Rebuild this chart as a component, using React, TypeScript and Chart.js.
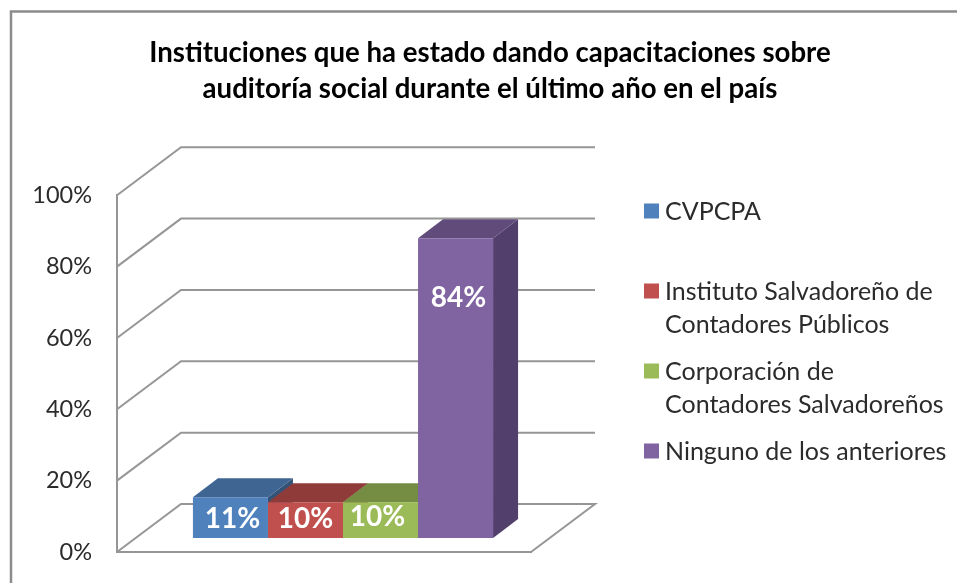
import React, { useEffect, useRef } from "react";
import { Chart, registerables } from "chart.js";

Chart.register(...registerables);

const titleLines = [
  "Instituciones que ha estado dando capacitaciones sobre",
  "auditoría social durante el último año en el país",
];
const seriesNames = [
  "CVPCPA",
  "Instituto Salvadoreño de Contadores Públicos",
  "Corporación de Contadores Salvadoreños",
  "Ninguno de los anteriores",
];
const legendLines = [
  ["CVPCPA"],
  ["Instituto Salvadoreño de", "Contadores Públicos"],
  ["Corporación de", "Contadores Salvadoreños"],
  ["Ninguno de los anteriores"],
];
const seriesValues = [11.4, 10, 10, 84];
const categories = [""];
const frontColors = ["#4f81bd", "#c0504d", "#9bbb59", "#8064a2"];
const topColors = ["#3f6593", "#8f3b39", "#748d42", "#604b7a"];
const sideColors = ["#335378", "#8f3b39", "#748d42", "#523f6c"];

const FONT = "Lato, Carlito, sans-serif";
const GRID = "#969696";
const WALL = { dx: 64, dy: -48 };
const BAR_SHIFT = { dx: 19, dy: -14 };
const BAR_DEPTH = { dx: 25, dy: -19 };
const labelNudge = [{ x: 2, y: 1 }, { x: 0, y: -1 }, { x: -3, y: -3 }, { x: 3, y: 0 }];
const legendLayout = { swatchX: 644, swatch: 15, textX: 665, lineGap: 32.5, firstY: [212, 292, 372, 452] };

function poly(ctx: CanvasRenderingContext2D, pts: number[][], fill: string) {
  ctx.beginPath();
  pts.forEach((p, i) => (i ? ctx.lineTo(p[0], p[1]) : ctx.moveTo(p[0], p[1])));
  ctx.closePath();
  ctx.fillStyle = fill;
  ctx.fill();
}

const scenePlugin = {
  id: "scene3d",
  beforeDraw(chart: any) {
    const { ctx } = chart;
    ctx.save();
    ctx.fillStyle = "#ffffff";
    ctx.fillRect(0, 0, chart.width, chart.height);
    ctx.strokeStyle = "#8c8c8c";
    ctx.lineWidth = 2.5;
    ctx.beginPath();
    ctx.moveTo(11, chart.height);
    ctx.lineTo(11, 11.5);
    ctx.lineTo(chart.width, 11.5);
    ctx.stroke();
    ctx.restore();
  },
  beforeDatasetsDraw(chart: any) {
    const { ctx, chartArea, scales } = chart;
    const { left, right } = chartArea;
    ctx.save();
    ctx.strokeStyle = GRID;
    ctx.lineWidth = 2;
    scales.y.ticks.forEach((t: any) => {
      const y = scales.y.getPixelForValue(t.value);
      ctx.beginPath();
      ctx.moveTo(left, y);
      ctx.lineTo(left + WALL.dx, y + WALL.dy);
      ctx.lineTo(right + WALL.dx, y + WALL.dy);
      if (t.value === 0) ctx.lineTo(right, y);
      ctx.stroke();
    });
    // extruded tops and sides, painted left to right
    chart.data.datasets.forEach((_: any, i: number) => {
      const bar = chart.getDatasetMeta(i).data[0];
      const x0 = bar.x - bar.width / 2 + BAR_SHIFT.dx;
      const x1 = bar.x + bar.width / 2 + BAR_SHIFT.dx;
      const yT = bar.y + BAR_SHIFT.dy;
      const yB = bar.base + BAR_SHIFT.dy;
      const d = BAR_DEPTH;
      poly(ctx, [[x1, yT], [x1 + d.dx, yT + d.dy], [x1 + d.dx, yB + d.dy], [x1, yB]], sideColors[i]);
      poly(ctx, [[x0, yT], [x0 + d.dx, yT + d.dy], [x1 + d.dx, yT + d.dy], [x1, yT]], topColors[i]);
    });
    ctx.restore();
    ctx.save();
    ctx.translate(BAR_SHIFT.dx, BAR_SHIFT.dy);
  },
  afterDatasetsDraw(chart: any) {
    const { ctx } = chart;
    ctx.restore();
    ctx.save();
    ctx.font = `bold 28px ${FONT}`;
    ctx.fillStyle = "#ffffff";
    ctx.textAlign = "center";
    ctx.textBaseline = "middle";
    chart.data.datasets.forEach((ds: any, i: number) => {
      const bar = chart.getDatasetMeta(i).data[0];
      const cx = bar.x + BAR_SHIFT.dx + labelNudge[i].x;
      const cy = (bar.y + bar.base) / 2 + BAR_SHIFT.dy + labelNudge[i].y;
      const text = `${Math.round(ds.data[0])}%`;
      const yPos = i === 3 ? bar.y + BAR_SHIFT.dy + 60 : cy;
      ctx.fillText(text, cx, yPos);
    });
    ctx.restore();
  },
  afterDraw(chart: any) {
    const { ctx } = chart;
    const L = legendLayout;
    ctx.save();
    ctx.font = `25px ${FONT}`;
    ctx.textAlign = "left";
    ctx.textBaseline = "middle";
    legendLines.forEach((lines, i) => {
      ctx.fillStyle = frontColors[i];
      ctx.fillRect(L.swatchX, L.firstY[i] - 1 - L.swatch / 2, L.swatch, L.swatch);
      ctx.fillStyle = "#2b2b2b";
      lines.forEach((line, j) => ctx.fillText(line, L.textX, L.firstY[i] + j * L.lineGap));
    });
    ctx.restore();
  },
};

export default function App() {
  const ref = useRef<HTMLCanvasElement>(null);
  useEffect(() => {
    const chart = new Chart(ref.current as HTMLCanvasElement, {
      type: "bar",
      data: {
        labels: categories,
        datasets: seriesNames.map((name, i) => ({
          label: name,
          data: [seriesValues[i]],
          backgroundColor: frontColors[i],
          borderWidth: 0,
          clip: false as any,
          barPercentage: 1,
          categoryPercentage: 0.725,
        })),
      },
      options: {
        responsive: false,
        animation: false,
        layout: { padding: { left: 23, right: 0, top: 0, bottom: 31 } },
        plugins: {
          legend: { display: false },
          tooltip: { enabled: false },
          title: {
            display: true,
            text: titleLines,
            color: "#000000",
            font: { family: FONT, size: 27.6, weight: "bold", lineHeight: 1.3 },
            padding: { top: 35, bottom: 88.5 },
          },
        },
        scales: {
          x: {
            grid: { display: false },
            ticks: { display: false },
            border: { display: true, color: GRID, width: 2 },
            afterFit: (s: any) => { s.height = 0; },
          },
          y: {
            min: 0,
            max: 100,
            grid: { display: false, drawTicks: true, tickLength: 25 },
            border: { display: true, color: GRID, width: 2 },
            ticks: {
              stepSize: 20,
              padding: 0,
              color: "#2b2b2b",
              font: { family: FONT, size: 23.5 },
              callback: (v: any) => `${v}%`,
            },
            afterFit: (s: any) => { s.width = 94; },
          },
          legendSpace: {
            type: "linear",
            position: "right",
            min: 0,
            max: 1,
            grid: { display: false },
            border: { display: false },
            ticks: { display: false },
            afterFit: (s: any) => { s.width = 426; },
          },
        },
      } as any,
      plugins: [scenePlugin],
    });
    return () => chart.destroy();
  }, []);
  return (
    <div style={{ position: "fixed", left: 0, top: 0, width: 957, height: 583 }}>
      <canvas ref={ref} width={957} height={583} style={{ display: "block" }} />
    </div>
  );
}
